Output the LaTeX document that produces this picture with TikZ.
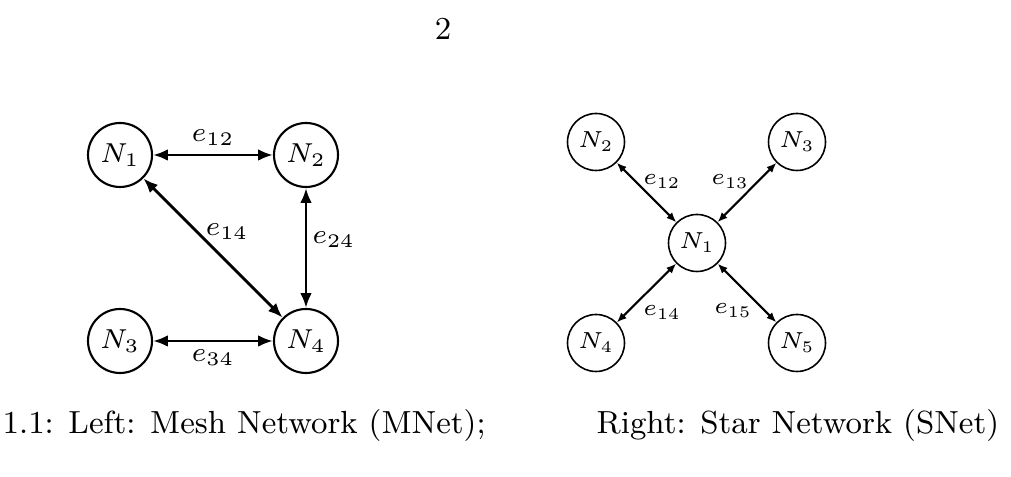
\RequirePackage{fix-cm}
\documentclass[tikz,border=0pt]{standalone}
\usepackage{amsmath}
\usetikzlibrary{arrows.meta}

\begin{document}
\begin{tikzpicture}[
    mnode/.style={circle, draw, line width=0.6pt, minimum size=0.64cm, inner sep=0pt, font=\fontsize{7.8}{9}\selectfont},
    medge/.style={{Latex[length=4.2pt,width=3.3pt]}-{Latex[length=4.2pt,width=3.3pt]}, line width=0.8pt},
    mlab/.style={inner sep=1pt, font=\fontsize{7.8}{9}\selectfont},
    snode/.style={circle, draw, line width=0.45pt, minimum size=0.57cm, inner sep=0pt, font=\fontsize{6.6}{7.5}\selectfont},
    sedge/.style={{Latex[length=2.8pt,width=2.3pt]}-{Latex[length=2.8pt,width=2.3pt]}, line width=0.6pt},
    slab/.style={inner sep=1pt, font=\fontsize{6.6}{7.5}\selectfont},
    captext/.style={inner sep=0pt, font=\fontsize{9.1}{11}\selectfont}
  ]
  \useasboundingbox (0,0) rectangle (10.11,4.77);

  % page number
  \node[captext, anchor=base] (page) at (4.43,4.37) {2};

  % mesh network
  \node[mnode] (m1) at (1.20,3.22) {$N_1$};
  \node[mnode] (m2) at (3.06,3.22) {$N_2$};
  \node[mnode] (m3) at (1.20,1.36) {$N_3$};
  \node[mnode] (m4) at (3.06,1.36) {$N_4$};

  \draw[medge] (m1) -- (m2) node[mlab, midway, above=1.4pt] (m12) {$e_{12}$};
  \draw[medge] (m1) -- (m4) node[mlab, pos=0.6, above=5pt] (m14) {$e_{14}$};
  \draw[medge] (m2) -- (m4) node[mlab, pos=0.43, right=0.4pt] (m24) {$e_{24}$};
  \draw[medge] (m3) -- (m4) node[mlab, midway, below=1.1pt] (m34) {$e_{34}$};

  % star network
  \node[snode] (s1) at (6.97,2.34) {$N_1$};
  \node[snode] (s2) at (5.96,3.35) {$N_2$};
  \node[snode] (s3) at (7.97,3.35) {$N_3$};
  \node[snode] (s4) at (5.96,1.34) {$N_4$};
  \node[snode] (s5) at (7.97,1.34) {$N_5$};

  \draw[sedge] (s2) -- (s1) node[slab, pos=0.44, above right=-1.2pt] (s12) {$e_{12}$};
  \draw[sedge] (s1) -- (s3) node[slab, pos=0.55, above left=-1pt] (s13) {$e_{13}$};
  \draw[sedge] (s1) -- (s4) node[slab, pos=0.63, below right=0pt] (s14) {$e_{14}$};
  \draw[sedge] (s1) -- (s5) node[slab, pos=0.63, below left=-0.5pt] (s15) {$e_{15}$};

  % captions
  \node[captext, anchor=base west] (capl) at (0.02,0.43) {1.1: Left: Mesh Network (MNet);};
  \node[captext, anchor=base west] (capr) at (5.96,0.43) {Right: Star Network (SNet)};
\end{tikzpicture}
\end{document}
